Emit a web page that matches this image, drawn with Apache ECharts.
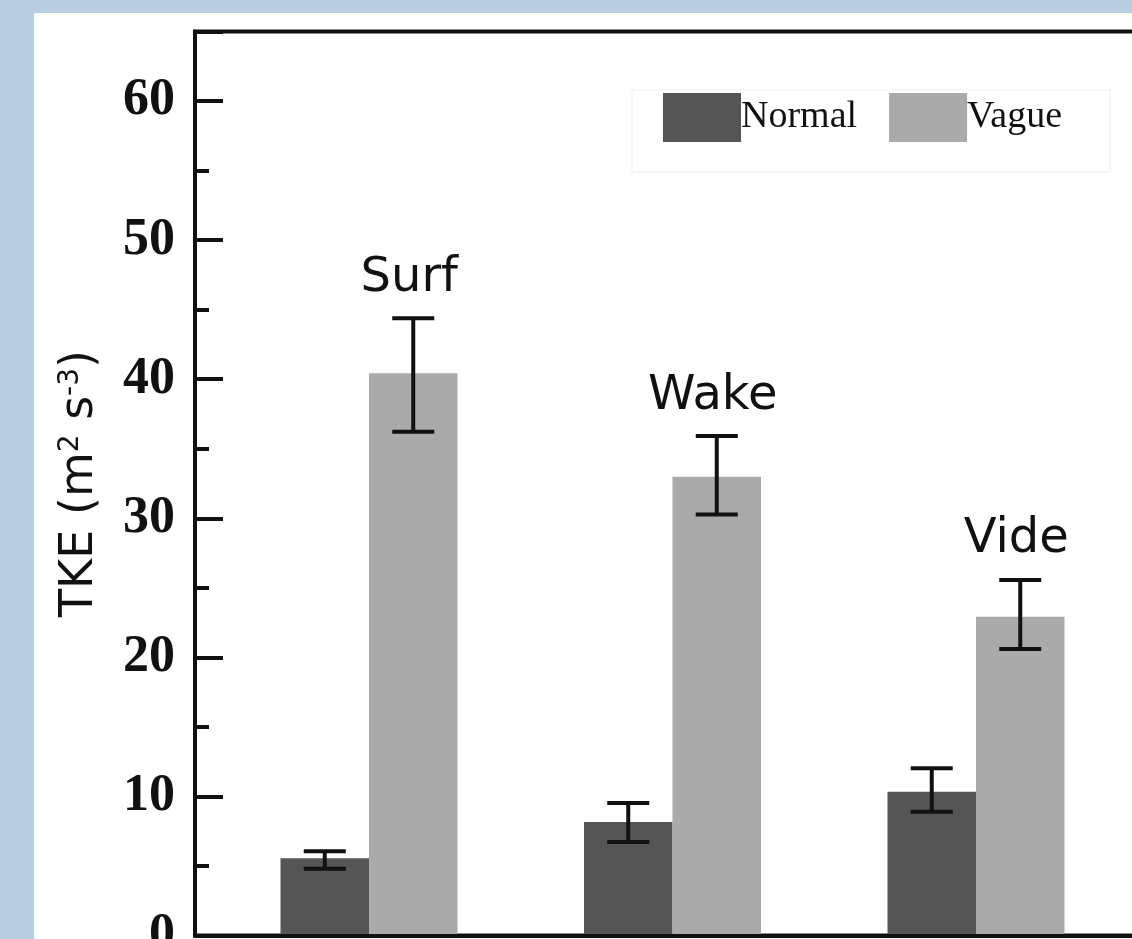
<!DOCTYPE html>
<html>
<head>
<meta charset="utf-8">
<script src="https://cdn.jsdelivr.net/npm/echarts@6/dist/echarts.min.js"></script>
<style>
    html, body { margin: 0; padding: 0; background: #b9cee3; overflow: hidden; }
    #panel { position: absolute; left: 34px; top: 13px; right: 0; bottom: 0; background: #fff; }
    #chart { position: absolute; left: 0; top: 0; width: 1132px; height: 939px; }
</style>
</head>
<body>
<div id="panel"></div>
<div id="chart"></div>
<script>
// categories and values
const categories = ['Surf', 'Wake', 'Vide'];
const seriesNames = ['Normal', 'Vague'];

const normalMean = [5.55, 8.16, 10.34];
const normalLow = [4.80, 6.72, 8.90];
const normalHigh = [6.05, 9.53, 12.02];

const vagueMean = [40.42, 32.99, 22.92];
const vagueLow = [36.22, 30.28, 20.60];
const vagueHigh = [44.38, 35.91, 25.56];

const BAR_WIDTH = 88.5;
const CAP_HALF = 21;
// plot box runs off the right and bottom edge of the picture
const GRID = { left: 195, top: 31.5, width: 977, height: 904, outerBoundsMode: 'none', containLabel: false };

// category i sits at x = i + 1 on a value axis
const pos = categories.map((c, i) => i + 1);

function renderErrorBar(params, api) {
    const x = api.value(0);
    const lo = api.value(1);
    const hi = api.value(2);
    const side = api.value(3);
    const pTop = api.coord([x, hi]);
    const pBot = api.coord([x, lo]);
    const cx = pTop[0] + side * BAR_WIDTH / 2;
    const style = { stroke: '#111', lineWidth: 4, fill: null };
    const children = [
        { type: 'line', shape: { x1: cx, y1: pTop[1], x2: cx, y2: pBot[1] }, style: style },
        { type: 'line', shape: { x1: cx - CAP_HALF, y1: pTop[1], x2: cx + CAP_HALF, y2: pTop[1] }, style: style },
        { type: 'line', shape: { x1: cx - CAP_HALF, y1: pBot[1], x2: cx + CAP_HALF, y2: pBot[1] }, style: style }
    ];
    // site names sit over the Vague error bars
    if (side > 0) {
        children.push({
            type: 'text',
            style: {
                text: categories[params.dataIndex],
                x: cx - 4,
                y: pTop[1] - 16,
                align: 'center',
                verticalAlign: 'bottom',
                fontFamily: 'DejaVu Sans',
                fontSize: 48,
                fill: '#111'
            }
        });
    }
    return { type: 'group', children: children };
}

const chart = echarts.init(document.getElementById('chart'));

const option = {
    animation: false,
    backgroundColor: 'transparent',
    grid: [
        Object.assign({ show: true, borderColor: '#111', borderWidth: 4, backgroundColor: 'transparent' }, GRID),
        Object.assign({}, GRID)
    ],
    legend: {
        data: seriesNames,
        left: 632,
        top: 90,
        padding: [3, 48, 30, 31],
        itemWidth: 78,
        itemHeight: 49,
        itemGap: 32,
        icon: 'rect',
        borderColor: '#efefef',
        borderWidth: 1,
        backgroundColor: '#fff',
        textStyle: {
            fontFamily: 'Liberation Serif',
            fontSize: 38,
            color: '#111',
            padding: [0, 0, 0, -5]
        }
    },
    xAxis: [
        {
            type: 'value',
            gridIndex: 0,
            min: 0.4267,
            max: 3.6458,
            z: 10,
            axisLine: { show: true, lineStyle: { color: '#111', width: 4 } },
            axisTick: { show: false },
            axisLabel: { show: false },
            splitLine: { show: false }
        },
        {
            type: 'value',
            gridIndex: 1,
            min: 0.4267,
            max: 3.6458,
            show: false
        }
    ],
    yAxis: [
        {
            type: 'value',
            gridIndex: 0,
            min: 0,
            max: 65,
            interval: 10,
            z: 10,
            axisLine: { show: true, lineStyle: { color: '#111', width: 4 } },
            axisTick: { show: true, inside: true, length: 28, lineStyle: { color: '#111', width: 4 } },
            axisLabel: {
                margin: 20,
                fontFamily: 'Liberation Serif',
                fontWeight: 'bold',
                fontSize: 52,
                color: '#111',
                formatter: v => (v % 10 === 0 ? String(v) : '')
            },
            splitLine: { show: false },
            name: 'TKE (m{sup|2} s{sup|-3})',
            nameLocation: 'middle',
            nameGap: 92,
            nameRotate: 90,
            nameTextStyle: {
                fontFamily: 'DejaVu Sans',
                fontSize: 46,
                color: '#111',
                rich: {
                    sup: { fontFamily: 'DejaVu Sans', fontSize: 28, color: '#111', verticalAlign: 'top' }
                }
            }
        },
        {
            // minor ticks every 5
            type: 'value',
            gridIndex: 1,
            min: 0,
            max: 65,
            interval: 5,
            z: 10,
            axisLine: { show: false },
            axisTick: { show: true, inside: true, length: 14, lineStyle: { color: '#111', width: 4 } },
            axisLabel: { show: false },
            splitLine: { show: false }
        }
    ],
    series: [
        {
            name: 'Normal',
            type: 'bar',
            xAxisIndex: 0,
            yAxisIndex: 0,
            barWidth: BAR_WIDTH,
            barGap: '0%',
            itemStyle: { color: '#555555' },
            data: normalMean.map((v, i) => [pos[i], v])
        },
        {
            name: 'Vague',
            type: 'bar',
            xAxisIndex: 0,
            yAxisIndex: 0,
            barWidth: BAR_WIDTH,
            barGap: '0%',
            itemStyle: { color: '#aaaaaa' },
            data: vagueMean.map((v, i) => [pos[i], v])
        },
        {
            type: 'custom',
            xAxisIndex: 0,
            yAxisIndex: 0,
            z: 5,
            renderItem: renderErrorBar,
            encode: { x: 0, y: [1, 2] },
            data: normalLow.map((lo, i) => [pos[i], lo, normalHigh[i], -1])
        },
        {
            type: 'custom',
            xAxisIndex: 0,
            yAxisIndex: 0,
            z: 5,
            renderItem: renderErrorBar,
            encode: { x: 0, y: [1, 2] },
            data: vagueLow.map((lo, i) => [pos[i], lo, vagueHigh[i], 1])
        }
    ]
};

chart.setOption(option);

window.addEventListener('resize', () => {
    chart.resize();
});
</script>
</body>
</html>
